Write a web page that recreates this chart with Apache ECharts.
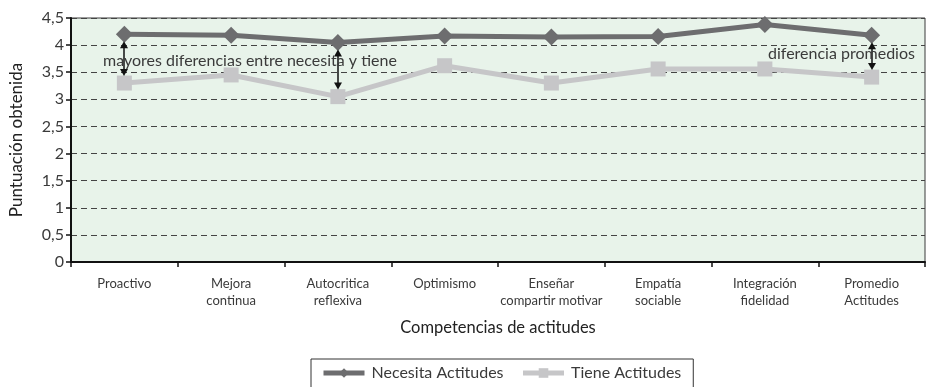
<!DOCTYPE html>
<html>
<head>
<meta charset="utf-8">
<script src="https://cdn.jsdelivr.net/npm/echarts@6/dist/echarts.min.js"></script>
<style>
  html, body { margin: 0; padding: 0; background: #fff; }
  #chart { width: 927px; height: 387px; }
</style>
</head>
<body>
<div id="chart"></div>
<script>
// Competencias de actitudes: puntuación que se necesita frente a la que se tiene
const categories = [
  'Proactivo',
  'Mejora\ncontinua',
  'Autocritica\nreflexiva',
  'Optimismo',
  'Enseñar\ncompartir motivar',
  'Empatía\nsociable',
  'Integración\nfidelidad',
  'Promedio\nActitudes'
];
const necesita = [4.20, 4.18, 4.05, 4.17, 4.15, 4.16, 4.38, 4.18];
const tiene    = [3.30, 3.45, 3.05, 3.62, 3.30, 3.56, 3.56, 3.41];
const yTicks = { min: 0, max: 4.5, interval: 0.5 };

// categorías donde se señala la diferencia con una flecha doble
const arrowIdx = [0, 2, 7];

const FONT = 'Lato, "Open Sans", sans-serif';
const TEXT = '#3a3a3a';

const chart = echarts.init(document.getElementById('chart'));

chart.setOption({
  animation: false,
  textStyle: { fontFamily: FONT },
  grid: {
    left: 68, right: 2, top: 18, bottom: 125,
    show: true,
    backgroundColor: '#e8f3ea',
    borderColor: '#3a3a3a',
    borderWidth: 1
  },
  xAxis: {
    type: 'category',
    data: categories,
    boundaryGap: true,
    name: 'Competencias de actitudes',
    nameLocation: 'middle',
    nameGap: 57,
    nameTextStyle: { fontSize: 16.5, color: '#222', fontFamily: FONT },
    axisLine: { lineStyle: { color: '#111', width: 2 } },
    axisTick: { show: true, length: 5, lineStyle: { color: '#111', width: 1.5 } },
    axisLabel: {
      fontSize: 13, color: TEXT, lineHeight: 17, margin: 13,
      interval: 0, fontFamily: FONT, verticalAlign: 'top'
    }
  },
  yAxis: {
    type: 'value',
    min: yTicks.min, max: yTicks.max, interval: yTicks.interval,
    name: 'Puntuación obtenida',
    nameLocation: 'middle',
    nameGap: 46,
    nameTextStyle: { fontSize: 17, color: '#222', fontFamily: FONT },
    axisLine: { show: true, lineStyle: { color: '#111', width: 2 } },
    axisTick: { show: true, length: 5, lineStyle: { color: '#111', width: 1.5 } },
    axisLabel: {
      fontSize: 16, color: TEXT, margin: 7, fontFamily: FONT,
      formatter: v => String(v).replace('.', ',')
    },
    splitLine: { show: true, lineStyle: { color: '#444', type: [6, 4], width: 1 } }
  },
  legend: {
    top: 359,
    left: 311,
    data: ['Necesita Actitudes', 'Tiene Actitudes'],
    itemWidth: 41,
    itemHeight: 12,
    itemGap: 17,
    padding: [6, 12, 12, 10],
    borderColor: '#333',
    borderWidth: 1,
    lineStyle: { width: 5 },
    textStyle: { fontSize: 16, color: TEXT, fontFamily: FONT, padding: [0, 0, 0, 2] }
  },
  series: [
    {
      name: 'Necesita Actitudes',
      type: 'line',
      data: necesita,
      symbol: 'diamond',
      symbolSize: 17,
      z: 3,
      lineStyle: { color: '#6d6d6f', width: 5 },
      itemStyle: { color: '#6d6d6f' }
    },
    {
      name: 'Tiene Actitudes',
      type: 'line',
      data: tiene,
      symbol: 'rect',
      symbolSize: 15,
      z: 2,
      lineStyle: { color: '#c6c6c8', width: 5 },
      itemStyle: { color: '#c6c6c8' }
    }
  ]
});

// Flechas dobles entre ambas series y textos explicativos
function drawArrows() {
  const els = [];
  const head = 4, len = 7;
  arrowIdx.forEach(i => {
    const p1 = chart.convertToPixel({ gridIndex: 0 }, [i, necesita[i]]);
    const p2 = chart.convertToPixel({ gridIndex: 0 }, [i, tiene[i]]);
    const x = Math.round(p1[0]);
    const y1 = p1[1] + 7;   // borde inferior del rombo
    const y2 = p2[1] - 7;   // borde superior del cuadrado
    els.push({
      type: 'line', z: 10,
      shape: { x1: x, y1: y1 + 4, x2: x, y2: y2 - 4 },
      style: { stroke: '#111', lineWidth: 1.5 }
    });
    els.push({
      type: 'polygon', z: 10,
      shape: { points: [[x, y1], [x - head, y1 + len], [x + head, y1 + len]] },
      style: { fill: '#111' }
    });
    els.push({
      type: 'polygon', z: 10,
      shape: { points: [[x, y2], [x - head, y2 - len], [x + head, y2 - len]] },
      style: { fill: '#111' }
    });
  });
  els.push({
    type: 'text', z: 11, left: 103, top: 53,
    style: { text: 'mayores diferencias entre necesita y tiene', fontSize: 16, fill: '#3a3a3a', fontFamily: FONT }
  });
  els.push({
    type: 'text', z: 11, left: 768, top: 46,
    style: { text: 'diferencia promedios', fontSize: 16, fill: '#3a3a3a', fontFamily: FONT }
  });
  chart.setOption({ graphic: els });
}
drawArrows();
</script>
</body>
</html>
